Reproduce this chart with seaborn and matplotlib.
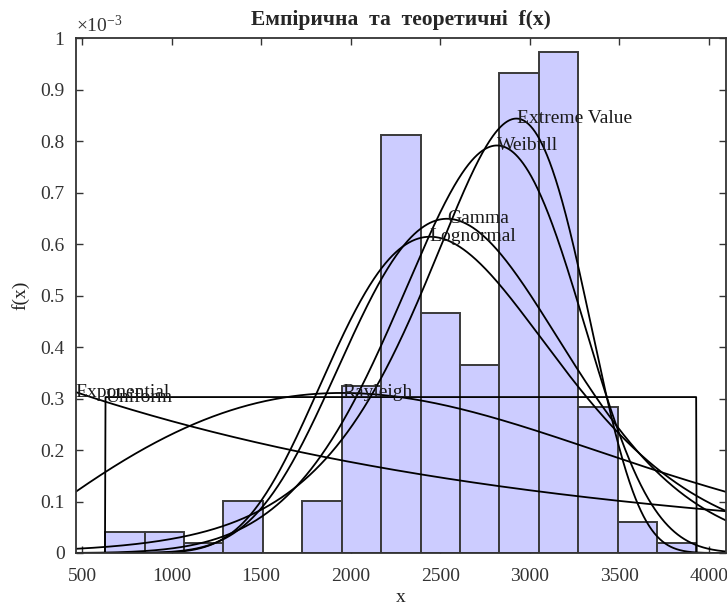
import math
import numpy as np
import pandas as pd
import matplotlib
matplotlib.use("Agg")
import matplotlib.pyplot as plt
import seaborn as sns

# Histogram of the sample: bin layout and density heights (units of 1e-3)
bin_start = 630.0
bin_width = 220.0
density_e3 = [0.0406, 0.0406, 0.0203, 0.1015, 0.0, 0.1015, 0.325, 0.8117,
              0.467, 0.365, 0.933, 0.974, 0.284, 0.061, 0.0203]

# Fitted distribution parameters
x_min, x_max = 630.0, 3930.0          # uniform support (sample range)
exp_mean = 2690.0                     # exponential
rayleigh_s = 1950.0                   # Rayleigh
gamma_k, gamma_theta = 18.24, 147.2   # gamma
logn_mu, logn_sigma = 7.8672, 0.257   # lognormal
wbl_a, wbl_b = 2899.0, 6.155          # Weibull
ev_mu, ev_b = 2925.0, 435.7           # extreme value (min)

dist_names = ["Exponential", "Uniform", "Rayleigh", "Lognormal", "Gamma",
              "Weibull", "Extreme Value"]

x_ticks = [500, 1000, 1500, 2000, 2500, 3000, 3500, 4000]
y_ticks = [0, 0.1, 0.2, 0.3, 0.4, 0.5, 0.6, 0.7, 0.8, 0.9, 1]

sns.set_style("ticks")
plt.rcParams["font.family"] = ["Liberation Serif", "DejaVu Serif"]
plt.rcParams["mathtext.fontset"] = "custom"
plt.rcParams["mathtext.rm"] = "Liberation Serif"
plt.rcParams["mathtext.it"] = "Liberation Serif:italic"

fig = plt.figure(figsize=(7.27, 6.07), dpi=100)
ax = fig.add_axes([0.1041, 0.089, 0.8945, 0.8476])

n_bins = len(density_e3)
edges = bin_start + bin_width * np.arange(n_bins + 1)
centers = (edges[:-1] + edges[1:]) / 2
hist_df = pd.DataFrame({"x": centers, "h": density_e3})
sns.histplot(data=hist_df, x="x", weights="h", binwidth=bin_width,
             binrange=(float(edges[0]), float(edges[-1])), stat="count",
             color=(0.8, 0.8, 1.0), alpha=1.0, edgecolor="#3a3a3a",
             linewidth=1.4, ax=ax)

span = x_max - x_min
lo, hi = x_min - 0.05 * span, x_max + 0.05 * span
xs = np.linspace(lo, hi, 1200)


def pdfs(x):
    out = {}
    out["Exponential"] = np.exp(-x / exp_mean) / exp_mean
    out["Uniform"] = np.where((x >= x_min) & (x <= x_max), 1.0 / span, 0.0)
    out["Rayleigh"] = x / rayleigh_s**2 * np.exp(-x**2 / (2 * rayleigh_s**2))
    out["Lognormal"] = (np.exp(-(np.log(x) - logn_mu)**2 / (2 * logn_sigma**2))
                        / (x * logn_sigma * np.sqrt(2 * np.pi)))
    out["Gamma"] = np.exp((gamma_k - 1) * np.log(x) - x / gamma_theta
                          - math.lgamma(gamma_k) - gamma_k * np.log(gamma_theta))
    out["Weibull"] = (wbl_b / wbl_a) * (x / wbl_a)**(wbl_b - 1) * np.exp(-(x / wbl_a)**wbl_b)
    z = (x - ev_mu) / ev_b
    out["Extreme Value"] = np.exp(z) * np.exp(-np.exp(z)) / ev_b
    return out


curves = pdfs(xs)
for name in dist_names:
    ys = curves[name] * 1e3
    sns.lineplot(x=xs, y=ys, color="black", linewidth=1.3, ax=ax, estimator=None)
    i = int(np.argmax(ys))
    ax.text(xs[i], ys[i], name, ha="left", va="center", fontsize=14,
            color="#1a1a1a")

ax.set_xlim(lo, hi)
ax.set_ylim(0, 1)
ax.set_xticks(x_ticks)
ax.set_xticklabels([str(t) for t in x_ticks])
ax.set_yticks(y_ticks)
ax.set_yticklabels([("%g" % t) for t in y_ticks])
ax.tick_params(direction="in", length=5, width=1.0, top=True, right=True,
               labelsize=14, colors="#333333")
ax.tick_params(axis="x", pad=11)
ax.tick_params(axis="y", pad=8)
for sp in ax.spines.values():
    sp.set_color("#333333")
    sp.set_linewidth(1.3)
    sp.set_visible(True)

ax.set_xlabel("x", fontsize=14, color="#222222", labelpad=3)
ax.set_ylabel("f(x)", fontsize=14, color="#222222", labelpad=8)
ax.set_title("Емпірична  та  теоретичні  f(x)", fontsize=15.5,
             fontweight="bold", pad=10)
ax.text(0.0, 1.004, r"$\times10^{-3}$", transform=ax.transAxes,
        ha="left", va="bottom", fontsize=14, color="#333333")

fig.savefig("out.png", dpi=100)
